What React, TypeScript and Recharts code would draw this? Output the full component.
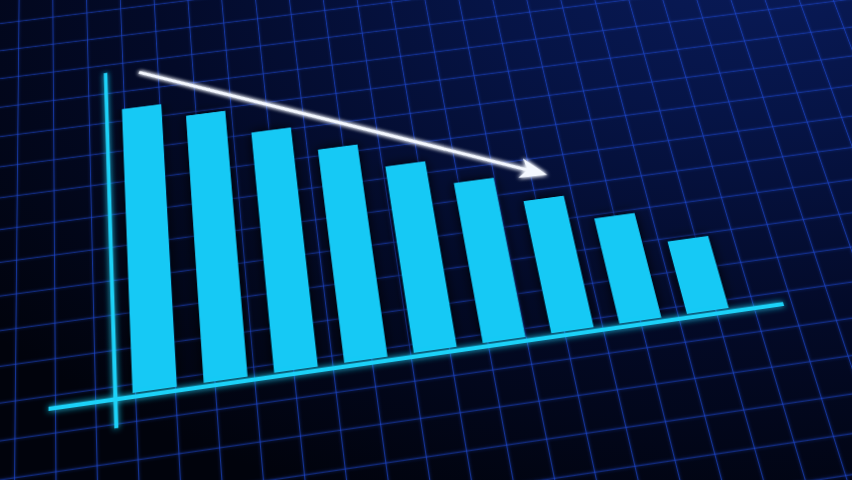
import React from 'react';
import { BarChart, Bar, XAxis, YAxis, ReferenceLine } from 'recharts';

// ---- data ----
const categories = ['1', '2', '3', '4', '5', '6', '7', '8', '9'];
const values = [100, 94.1, 84.3, 74.5, 64.9, 55.5, 45.7, 36.2, 24.8];
const positions = [1, 2, 3, 4, 5, 6, 7, 8, 9];
const trendStart = { x: 0.99, y: 113.9 };
const trendEnd = { x: 7.05, y: 54.85 };
const xAxisLine = [{ x: -0.48, y: -1.13 }, { x: 10.12, y: -1.13 }];
const yAxisLine = [{ x: 0.453, y: 115.3 }, { x: 0.453, y: -9.95 }];
const gridXTicks = Array.from({ length: 32 }, (_, i) => 0.7358 + 0.5592 * (i - 7));
const gridYTicks = Array.from({ length: 22 }, (_, i) => 2.84 + 11.5625 * (i - 7));

const data = categories.map((name, i) => ({ name, idx: positions[i], value: values[i] }));

// ---- flat canvas & perspective ----
const W = 1250;
const H = 800;
const margin = { left: 268.7, top: 223.3, right: 337.5, bottom: 256.7 };

type Pt = [number, number];
function homography(src: Pt[], dst: Pt[]): number[] {
  const A: number[][] = [];
  for (let i = 0; i < 4; i++) {
    const [x, y] = src[i];
    const [u, v] = dst[i];
    A.push([x, y, 1, 0, 0, 0, -u * x, -u * y, u]);
    A.push([0, 0, 0, x, y, 1, -v * x, -v * y, v]);
  }
  for (let c = 0; c < 8; c++) {
    let p = c;
    for (let r = c + 1; r < 8; r++) if (Math.abs(A[r][c]) > Math.abs(A[p][c])) p = r;
    const t = A[c]; A[c] = A[p]; A[p] = t;
    for (let r = 0; r < 8; r++) {
      if (r === c) continue;
      const f = A[r][c] / A[c][c];
      for (let k = c; k < 9; k++) A[r][k] -= f * A[c][k];
    }
  }
  const h = A.map((row, i) => row[8] / row[i]);
  return [...h, 1];
}

const srcPts: Pt[] = [[282.3, 543.3], [898.9, 543.3], [282.3, 223.6], [898.9, 223.6]];
const dstPts: Pt[] = [[132.3, 393.3], [728.3, 308.3], [121.7, 109.3], [652.05, 41.4]];
const hm = homography(srcPts, dstPts);
const matrix = `matrix3d(${hm[0]},${hm[3]},0,${hm[6]},${hm[1]},${hm[4]},0,${hm[7]},0,0,1,0,${hm[2]},${hm[5]},0,1)`;

const layerStyle: React.CSSProperties = {
  position: 'absolute', left: 0, top: 0, width: W, height: H,
  transformOrigin: '0 0', transform: matrix,
};

const CYAN = '#18c9f5';
const AXIS = '#1fd2f8';
const GRID = '#1f4ad6';

export default function App() {
  return (
    <div style={{
      position: 'fixed', left: 0, top: 0, width: 852, height: 480, overflow: 'hidden',
      background: 'radial-gradient(ellipse 120% 130% at 90% -15%, #0a1c5c 0%, #061446 30%, #030a28 62%, #01030c 100%)',
    }}>
      {/* grid plane */}
      <div style={{ ...layerStyle, filter: 'drop-shadow(0 0 1.5px rgba(40,90,255,0.7))' }}>
        <BarChart width={W} height={H} data={data} margin={margin}>
          <XAxis xAxisId="cat" dataKey="name" type="category" hide />
          <XAxis xAxisId="num" dataKey="idx" type="number" domain={[0.5, 9.5]} allowDataOverflow hide />
          <YAxis type="number" domain={[0, 100]} allowDataOverflow hide />
          {gridXTicks.map((x) => (
            <ReferenceLine key={'gx' + x} xAxisId="num" ifOverflow="visible"
              segment={[{ x, y: -82 }, { x, y: 172 }]}
              stroke={GRID} strokeWidth={1.1} strokeOpacity={0.62} />
          ))}
          {gridYTicks.map((y) => (
            <ReferenceLine key={'gy' + y} xAxisId="num" ifOverflow="visible"
              segment={[{ x: -3.4, y }, { x: 14.4, y }]}
              stroke={GRID} strokeWidth={1.1} strokeOpacity={0.62} />
          ))}
        </BarChart>
      </div>

      {/* chart plane */}
      <div style={layerStyle}>
        <BarChart width={W} height={H} data={data} margin={margin}>
          <defs>
            <filter id="halo" filterUnits="userSpaceOnUse" x="0" y="0" width={W} height={H}>
              <feGaussianBlur in="SourceAlpha" stdDeviation="7" result="b" />
              <feFlood floodColor="#000206" floodOpacity="0.92" />
              <feComposite in2="b" operator="in" result="s" />
              <feMerge>
                <feMergeNode in="s" />
                <feMergeNode in="SourceGraphic" />
              </feMerge>
            </filter>
            <filter id="cyanGlow" filterUnits="userSpaceOnUse" x="0" y="0" width={W} height={H}>
              <feGaussianBlur in="SourceGraphic" stdDeviation="3" result="g" />
              <feMerge>
                <feMergeNode in="g" />
                <feMergeNode in="SourceGraphic" />
              </feMerge>
            </filter>
            <filter id="whiteGlow" filterUnits="userSpaceOnUse" x="0" y="0" width={W} height={H}>
              <feGaussianBlur in="SourceGraphic" stdDeviation="2.5" result="g" />
              <feMerge>
                <feMergeNode in="g" />
                <feMergeNode in="g" />
                <feMergeNode in="SourceGraphic" />
              </feMerge>
            </filter>
            <marker id="arrowHead" markerUnits="userSpaceOnUse" markerWidth="40" markerHeight="30"
              viewBox="0 0 40 30" refX="30" refY="15" orient="auto">
              <path d="M37 15 L7 3 L15 15 L7 27 Z" fill="#f4f8ff" />
            </marker>
          </defs>
          <XAxis xAxisId="cat" dataKey="name" type="category" hide />
          <XAxis xAxisId="num" dataKey="idx" type="number" domain={[0.5, 9.5]} allowDataOverflow hide />
          <YAxis type="number" domain={[0, 100]} allowDataOverflow hide />
          <Bar xAxisId="cat" dataKey="value" barSize={44.35} isAnimationActive={false}
            shape={(p: any) => (
              <rect x={p.x} y={p.y} width={p.width} height={p.height} fill={CYAN} filter="url(#halo)" />
            )} />
          <ReferenceLine xAxisId="num" ifOverflow="visible" segment={xAxisLine}
            stroke={AXIS} strokeWidth={4.5}
            shape={(p: any) => (
              <line x1={p.x1} y1={p.y1} x2={p.x2} y2={p.y2} stroke={AXIS} strokeWidth={4.2} filter="url(#cyanGlow)" />
            )} />
          <ReferenceLine xAxisId="num" ifOverflow="visible" segment={yAxisLine}
            stroke={AXIS} strokeWidth={4.5}
            shape={(p: any) => (
              <line x1={p.x1} y1={p.y1} x2={p.x2} y2={p.y2} stroke={AXIS} strokeWidth={4} filter="url(#cyanGlow)" />
            )} />
          <ReferenceLine xAxisId="num" ifOverflow="visible" segment={[trendStart, trendEnd]}
            stroke="#f4f8ff" strokeWidth={3.5}
            shape={(p: any) => (
              <g filter="url(#whiteGlow)">
                <line x1={p.x1} y1={p.y1} x2={p.x2} y2={p.y2} stroke="#f4f8ff" strokeWidth={3.6}
                  markerEnd="url(#arrowHead)" />
              </g>
            )} />
        </BarChart>
      </div>
    </div>
  );
}
